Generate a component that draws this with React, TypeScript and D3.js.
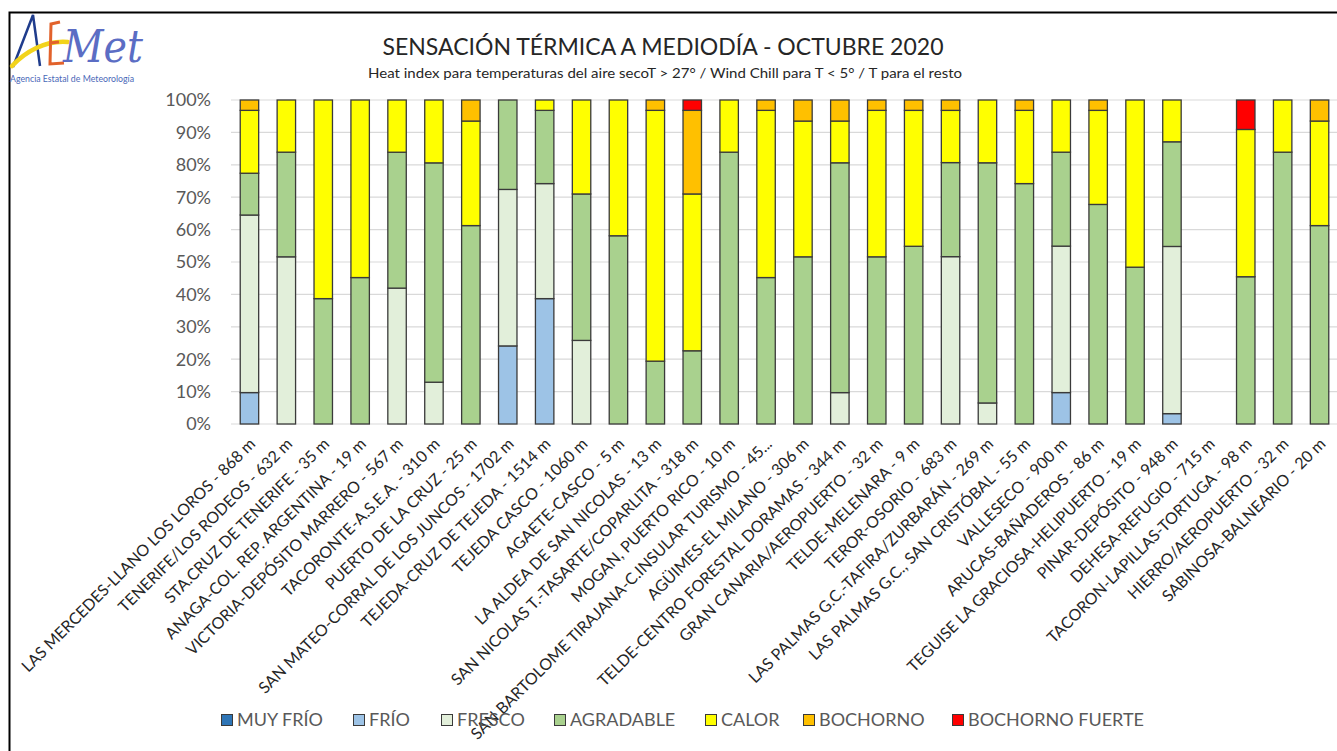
import React from 'react';
import * as d3 from 'd3';

const W = 1337;
const H = 751;

const stations = [
  'LAS MERCEDES-LLANO LOS LOROS - 868 m',
  'TENERIFE/LOS RODEOS - 632 m',
  'STA.CRUZ DE TENERIFE - 35 m',
  'ANAGA-COL. REP. ARGENTINA - 19 m',
  'VICTORIA-DEPÓSITO MARRERO - 567 m',
  'TACORONTE-A.S.E.A. - 310 m',
  'PUERTO DE LA CRUZ - 25 m',
  'SAN MATEO-CORRAL DE LOS JUNCOS - 1702 m',
  'TEJEDA-CRUZ DE TEJEDA - 1514 m',
  'TEJEDA CASCO - 1060 m',
  'AGAETE-CASCO - 5 m',
  'LA ALDEA DE SAN NICOLAS - 13 m',
  'SAN NICOLAS T.-TASARTE/COPARLITA - 318 m',
  'MOGAN, PUERTO RICO - 10 m',
  'SAN BARTOLOME TIRAJANA-C.INSULAR TURISMO - 45...',
  'AGÜIMES-EL MILANO - 306 m',
  'TELDE-CENTRO FORESTAL DORAMAS - 344 m',
  'GRAN CANARIA/AEROPUERTO - 32 m',
  'TELDE-MELENARA - 9 m',
  'TEROR-OSORIO - 683 m',
  'LAS PALMAS G.C.-TAFIRA/ZURBARÁN - 269 m',
  'LAS PALMAS G.C., SAN CRISTÓBAL - 55 m',
  'VALLESECO - 900 m',
  'ARUCAS-BAÑADEROS - 86 m',
  'TEGUISE LA GRACIOSA-HELIPUERTO - 19 m',
  'PINAR-DEPÓSITO - 948 m',
  'DEHESA-REFUGIO - 715 m',
  'TACORON-LAPILLAS-TORTUGA - 98 m',
  'HIERRO/AEROPUERTO - 32 m',
  'SABINOSA-BALNEARIO - 20 m',
];

// porcentaje de días por categoría
const muyFrio = [0, 0, 0, 0, 0, 0, 0, 0, 0, 0, 0, 0, 0, 0, 0, 0, 0, 0, 0, 0, 0, 0, 0, 0, 0, 0, 0, 0, 0, 0];
const frio = [9.7, 0, 0, 0, 0, 0, 0, 24.1, 38.7, 0, 0, 0, 0, 0, 0, 0, 0, 0, 0, 0, 0, 0, 9.7, 0, 0, 3.2, 0, 0, 0, 0];
const fresco = [54.8, 51.6, 0, 0, 41.9, 12.9, 0, 48.3, 35.5, 25.8, 0, 0, 0, 0, 0, 0, 9.7, 0, 0, 51.6, 6.5, 0, 45.2, 0, 0, 51.6, 0, 0, 0, 0];
const agradable = [12.9, 32.3, 38.7, 45.2, 41.9, 67.7, 61.3, 27.6, 22.6, 45.2, 58.1, 19.4, 22.6, 83.9, 45.2, 51.6, 71.0, 51.6, 54.8, 29.0, 74.2, 74.2, 29.0, 67.7, 48.4, 32.3, 0, 45.5, 83.9, 61.3];
const calor = [19.4, 16.1, 61.3, 54.8, 16.1, 19.4, 32.3, 0, 3.2, 29.0, 41.9, 77.4, 48.4, 16.1, 51.6, 41.9, 12.9, 45.2, 41.9, 16.1, 19.4, 22.6, 16.1, 29.0, 51.6, 12.9, 0, 45.5, 16.1, 32.3];
const bochorno = [3.2, 0, 0, 0, 0, 0, 6.5, 0, 0, 0, 0, 3.2, 25.8, 0, 3.2, 6.5, 6.5, 3.2, 3.2, 3.2, 0, 3.2, 0, 3.2, 0, 0, 0, 0, 0, 6.5];
const bochornoFuerte = [0, 0, 0, 0, 0, 0, 0, 0, 0, 0, 0, 0, 3.2, 0, 0, 0, 0, 0, 0, 0, 0, 0, 0, 0, 0, 0, 0, 9.1, 0, 0];

const seriesNames = ['MUY FRÍO', 'FRÍO', 'FRESCO', 'AGRADABLE', 'CALOR', 'BOCHORNO', 'BOCHORNO FUERTE'];
const seriesValues = [muyFrio, frio, fresco, agradable, calor, bochorno, bochornoFuerte];
const seriesColors = ['#2E75B6', '#9DC3E6', '#E2EFDA', '#A9D18E', '#FFFF00', '#FFC000', '#FF0000'];
const legendX = [221, 353, 441, 554, 705, 803, 952];

const yTicks = [0, 0.1, 0.2, 0.3, 0.4, 0.5, 0.6, 0.7, 0.8, 0.9, 1];

const FONT = 'Lato, "Open Sans", sans-serif';

export default function App() {
  const rows = stations.map((s, i) => {
    const r: any = { station: s };
    seriesNames.forEach((n, k) => (r[n] = seriesValues[k][i]));
    return r;
  });

  const stack = d3.stack<any>().keys(seriesNames).offset(d3.stackOffsetExpand);
  const layers = stack(rows);

  const x = d3.scaleBand().domain(stations).range([231, 1338]).paddingInner(0.5).paddingOuter(0.25);
  const y = d3.scaleLinear().domain([0, 1]).range([424, 100]);
  const fmt = d3.format('.0%');

  return (
    <svg width={W} height={H} style={{ position: 'absolute', left: 0, top: 0, background: '#fff' }} fontFamily={FONT}>
      <rect x={0} y={0} width={W} height={H} fill="#fff" />
      {/* marco */}
      <path d={`M9.5,${H} V12.5 H${W}`} fill="none" stroke="#000" strokeWidth={2} />

      {/* logo AEMet */}
      <g>
        <path d="M13,67 L33,15 L40,66" fill="none" stroke="#1F3C8C" strokeWidth={2.5} />
        <path d="M12,66 C25,52 45,40 68,42" fill="none" stroke="#F2D31B" strokeWidth={4.5} strokeLinecap="round" />
        <path d="M60,22 L51,24 L50,64 L64,63 M50,43 L59,42" fill="none" stroke="#E2622B" strokeWidth={3} />
        <text x={63} y={62} fontSize={44} fontStyle="italic" fontFamily='"DejaVu Serif", serif' fill="#5B6DC4" textLength={80} lengthAdjust="spacingAndGlyphs">
          Met
        </text>
        <text x={10} y={82} fontSize={9} fill="#4A68B8" textLength={124} lengthAdjust="spacingAndGlyphs">
          Agencia Estatal de Meteorología
        </text>
      </g>

      {/* títulos */}
      <text x={663} y={55} textAnchor="middle" fontSize={23} fill="#262626" textLength={561} lengthAdjust="spacingAndGlyphs">
        SENSACIÓN TÉRMICA A MEDIODÍA - OCTUBRE 2020
      </text>
      <text x={665} y={78} textAnchor="middle" fontSize={13} fill="#262626" textLength={594} lengthAdjust="spacingAndGlyphs">
        Heat index para temperaturas del aire secoT &gt; 27° / Wind Chill para T &lt; 5° /  T para el resto
      </text>

      {/* rejilla y eje Y */}
      {yTicks.map((t) => (
        <g key={t}>
          <line x1={231} x2={W} y1={y(t)} y2={y(t)} stroke="#D9D9D9" strokeWidth={1.2} />
          <text x={211} y={y(t)} dy="0.36em" textAnchor="end" fontSize={18} fill="#595959">
            {fmt(t)}
          </text>
        </g>
      ))}

      {/* barras */}
      {layers.map((layer, k) => (
        <g key={layer.key} fill={seriesColors[k]}>
          {layer.map((d, i) =>
            d[1] - d[0] > 0 ? (
              <rect
                key={i}
                x={x(stations[i])}
                y={y(d[1])}
                width={x.bandwidth()}
                height={y(d[0]) - y(d[1])}
                stroke="#3A3A3A"
                strokeWidth={1.3}
              />
            ) : null
          )}
        </g>
      ))}

      {/* etiquetas X */}
      {stations.map((s) => {
        const cx = (x(s) as number) + x.bandwidth() / 2 + 3;
        return (
          <text
            key={s}
            transform={`translate(${cx},441) rotate(-45)`}
            textAnchor="end"
            dy="0.35em"
            fontSize={16}
            fill="#262626"
          >
            {s}
          </text>
        );
      })}

      {/* leyenda */}
      {seriesNames.map((n, k) => (
        <g key={n} transform={`translate(${legendX[k]},720)`}>
          <rect x={0.5} y={-5.5} width={11} height={11} fill={seriesColors[k]} stroke="#3A3A3A" strokeWidth={1} />
          <text x={16} y={0} dy="0.36em" fontSize={18} fill="#595959">
            {n}
          </text>
        </g>
      ))}
    </svg>
  );
}
